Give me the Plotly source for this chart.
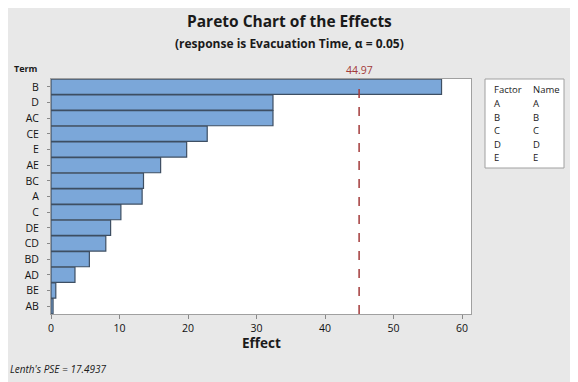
import plotly.graph_objects as go

terms = ["B", "D", "AC", "CE", "E", "AE", "BC", "A", "C", "DE", "CD", "BD", "AD", "BE", "AB"]
effects = [57.0, 32.4, 32.4, 22.8, 19.8, 16.0, 13.5, 13.3, 10.2, 8.7, 8.0, 5.6, 3.5, 0.7, 0.3]
critical = 44.97
x_ticks = [0, 10, 20, 30, 40, 50, 60]
factors = ["A", "B", "C", "D", "E"]
names = ["A", "B", "C", "D", "E"]
pse_text = "Lenth's PSE = 17.4937"

O = 8  # page body margin
W, H = 578 - O, 382 - O
L, R, T, B = 51, 471, 79, 314  # plot area in window pixels
FONT = "Open Sans"

def px(x):
    return (x - L) / (R - L)

def py(y):
    return (B - y) / (B - T)

fig = go.Figure()
fig.add_trace(go.Bar(
    x=effects, y=terms, orientation="h",
    marker=dict(color="#7ba7d9", line=dict(color="#3e4f63", width=1.2)),
    width=0.97,
    hoverinfo="x+y",
))

annotations = [
    dict(text="<b>Pareto Chart of the Effects</b>", x=px(289), y=py(21), xref="paper", yref="paper",
         xanchor="center", yanchor="middle", showarrow=False,
         font=dict(family=FONT, size=15.5, color="#1a1a1a")),
    dict(text="<b>(response is Evacuation Time, α = 0.05)</b>", x=px(289), y=py(43), xref="paper", yref="paper",
         xanchor="center", yanchor="middle", showarrow=False,
         font=dict(family=FONT, size=12, color="#1a1a1a")),
    dict(text=f"{critical:.2f}", x=critical, y=py(70), xref="x", yref="paper",
         xanchor="center", yanchor="middle", showarrow=False,
         font=dict(family=FONT, size=10.5, color="#a33a3a")),
    dict(text="<b>Term</b>", x=px(26), y=py(69), xref="paper", yref="paper",
         xanchor="center", yanchor="middle", showarrow=False,
         font=dict(family=FONT, size=9, color="#1a1a1a")),
    dict(text="<b>Effect</b>", x=px(261), y=py(343), xref="paper", yref="paper",
         xanchor="center", yanchor="middle", showarrow=False,
         font=dict(family=FONT, size=13.5, color="#1a1a1a")),
    dict(text="<i>" + pse_text + "</i>", x=px(8), y=py(369), xref="paper", yref="paper",
         xanchor="left", yanchor="middle", showarrow=False,
         font=dict(family=FONT, size=10, color="#1a1a1a")),
]

# legend table
row_y = [90, 103.5, 117, 130.5, 144, 157.5]
col_factor = ["Factor"] + factors
col_name = ["Name"] + names
for i, yy in enumerate(row_y):
    annotations.append(dict(text=col_factor[i], x=px(492), y=py(yy), xref="paper", yref="paper",
                            xanchor="left", yanchor="middle", showarrow=False,
                            font=dict(family=FONT, size=9.5, color="#1a1a1a")))
    annotations.append(dict(text=col_name[i], x=px(531), y=py(yy), xref="paper", yref="paper",
                            xanchor="left", yanchor="middle", showarrow=False,
                            font=dict(family=FONT, size=9.5, color="#1a1a1a")))

shapes = [
    dict(type="rect", xref="paper", yref="paper", x0=px(485), x1=px(564), y0=py(168), y1=py(79),
         line=dict(color="#a0a0a0", width=1), fillcolor="white", layer="above"),
    dict(type="line", xref="x", yref="paper", x0=critical, x1=critical, y0=0, y1=1,
         line=dict(color="#a33a3a", width=1.5, dash="dash")),
]

fig.update_layout(
    width=W, height=H,
    margin=dict(l=L - O, r=W - (R - O), t=T - O, b=H - (B - O), pad=0),
    paper_bgcolor="#e8e8e8",
    plot_bgcolor="white",
    showlegend=False,
    bargap=0.03,
    annotations=annotations,
    shapes=shapes,
    font=dict(family=FONT, size=10, color="#1a1a1a"),
    xaxis=dict(range=[0, 61.3], tickvals=x_ticks, ticks="outside", ticklen=4, tickcolor="#888",
               showgrid=False, zeroline=False, showline=True, linecolor="#a0a0a0", mirror=True,
               tickfont=dict(family=FONT, size=10.5, color="#111111")),
    yaxis=dict(categoryorder="array", categoryarray=terms[::-1], ticks="outside", ticklen=3,
               tickcolor="#888", showgrid=False, showline=True, linecolor="#a0a0a0", mirror=True,
               range=[-0.5, len(terms) - 0.5], ticklabelstandoff=6,
               tickfont=dict(family=FONT, size=10.5, color="#111111")),
)

fig.write_html("out.html")
